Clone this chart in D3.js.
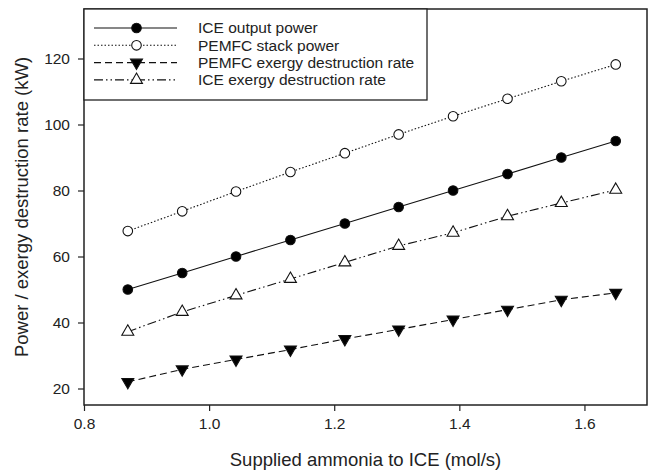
<!DOCTYPE html>
<html>
<head>
<meta charset="utf-8">
<script src="https://cdn.jsdelivr.net/npm/d3@7"></script>
<style>
  body { margin: 0; background: #fff; }
  text { font-family: "Liberation Sans", Arial, sans-serif; fill: #222; }
</style>
</head>
<body>
<div id="chart"></div>
<script>
// supplied ammonia (mol/s)
var ammonia = [0.87, 0.957, 1.043, 1.13, 1.217, 1.303, 1.39, 1.477, 1.563, 1.65];

var iceOutput = [50, 55, 60, 65, 70, 75, 80, 85, 90, 95];
var pemfcStack = [67.7, 73.7, 79.7, 85.6, 91.3, 97, 102.5, 107.8, 113.1, 118.2];
var pemfcExergy = [22, 25.8, 28.8, 31.8, 35, 37.9, 40.9, 43.9, 46.9, 49];
var iceExergy = [37.2, 43.2, 48.2, 53.2, 58.2, 63.2, 67.2, 72.2, 76.2, 80.2];

var seriesNames = ["ICE output power", "PEMFC stack power",
    "PEMFC exergy destruction rate", "ICE exergy destruction rate"];

var xTicks = [0.8, 1.0, 1.2, 1.4, 1.6];
var yTicks = [20, 40, 60, 80, 100, 120];

var series = [
    {name: seriesNames[0], values: iceOutput, dash: null, symbol: "circle", fill: "#000"},
    {name: seriesNames[1], values: pemfcStack, dash: "1.5,2", symbol: "circle", fill: "#fff"},
    {name: seriesNames[2], values: pemfcExergy, dash: "7,4", symbol: "down", fill: "#000"},
    {name: seriesNames[3], values: iceExergy, dash: "9,3,1.5,3,1.5,3", symbol: "up", fill: "#fff"}
];

var margin = {top: 9, right: 4, bottom: 69, left: 84};
var width = 651 - margin.left - margin.right;
var height = 474 - margin.top - margin.bottom;

var svg = d3.select("#chart").append("svg")
    .attr("width", 651)
    .attr("height", 474);

var g = svg.append("g")
    .attr("transform", "translate(" + margin.left + "," + margin.top + ")");

var x = d3.scaleLinear().domain([0.8, 1.7]).range([0, width]);
var y = d3.scaleLinear().domain([15, 135]).range([height, 0]);

// axes
var xAxis = d3.axisBottom(x).tickValues(xTicks).tickSize(6).tickPadding(7)
    .tickFormat(d3.format(".1f"));
var yAxis = d3.axisLeft(y).tickValues(yTicks).tickSize(6).tickPadding(8);

g.append("g")
    .attr("transform", "translate(0," + height + ")")
    .call(xAxis)
    .call(function(a) { a.select(".domain").remove(); })
    .selectAll("text").style("font-size", "15.5px").attr("fill", "#222");

g.append("g")
    .call(yAxis)
    .call(function(a) { a.select(".domain").remove(); })
    .selectAll("text").style("font-size", "15.5px").attr("fill", "#222");

g.selectAll(".tick line").attr("stroke", "#222").attr("stroke-width", 1.2);

// frame
g.append("rect")
    .attr("width", width)
    .attr("height", height)
    .attr("fill", "none")
    .attr("stroke", "#222")
    .attr("stroke-width", 1.5);

// axis titles
svg.append("text")
    .attr("x", margin.left + width / 2)
    .attr("y", 466)
    .attr("text-anchor", "middle")
    .style("font-size", "18.5px")
    .text("Supplied ammonia to ICE (mol/s)");

svg.append("text")
    .attr("transform", "translate(28," + (margin.top + height / 2) + ") rotate(-90)")
    .attr("text-anchor", "middle")
    .style("font-size", "18.5px")
    .text("Power / exergy destruction rate (kW)");

function symbolPath(type) {
    if (type === "circle") return d3.symbol().type(d3.symbolCircle).size(72)();
    return d3.symbol().type(d3.symbolTriangle).size(62)();
}

function symbolTransform(type, px, py) {
    var t = "translate(" + px + "," + py + ")";
    if (type === "down") t += " rotate(180)";
    return t;
}

var line = d3.line()
    .x(function(d, i) { return x(ammonia[i]); })
    .y(function(d) { return y(d); });

series.forEach(function(s) {
    g.append("path")
        .datum(s.values)
        .attr("d", line)
        .attr("fill", "none")
        .attr("stroke", "#111")
        .attr("stroke-width", 1.1)
        .attr("stroke-dasharray", s.dash);

    g.selectAll(null)
        .data(s.values)
        .enter()
        .append("path")
        .attr("d", symbolPath(s.symbol))
        .attr("transform", function(d, i) { return symbolTransform(s.symbol, x(ammonia[i]), y(d)); })
        .attr("fill", s.fill)
        .attr("stroke", "#111")
        .attr("stroke-width", 1.1);
});

// legend
var legend = g.append("g");

legend.append("rect")
    .attr("x", 0)
    .attr("y", 0)
    .attr("width", 343)
    .attr("height", 91)
    .attr("fill", "#fff")
    .attr("stroke", "#222")
    .attr("stroke-width", 1.3);

series.forEach(function(s, i) {
    var ly = 19 + i * 17.3;
    legend.append("line")
        .attr("x1", 10).attr("x2", 93)
        .attr("y1", ly).attr("y2", ly)
        .attr("stroke", "#111")
        .attr("stroke-width", 1.1)
        .attr("stroke-dasharray", s.dash);
    legend.append("path")
        .attr("d", symbolPath(s.symbol))
        .attr("transform", symbolTransform(s.symbol, 52.5, ly))
        .attr("fill", s.fill)
        .attr("stroke", "#111")
        .attr("stroke-width", 1.1);
    legend.append("text")
        .attr("x", 114)
        .attr("y", ly)
        .attr("dy", "0.35em")
        .style("font-size", "15.5px")
        .text(s.name);
});
</script>
</body>
</html>
